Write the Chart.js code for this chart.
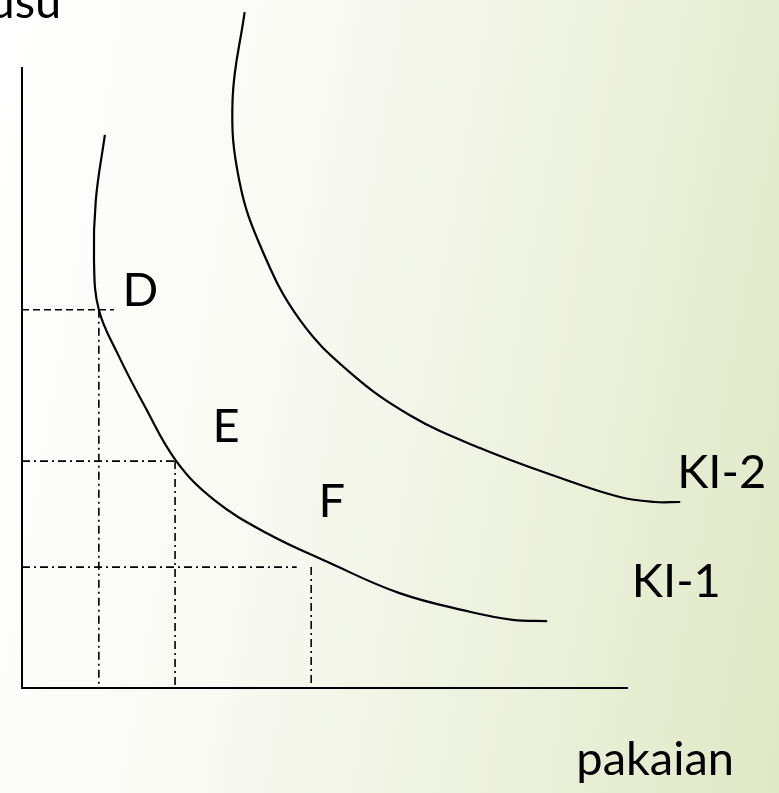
<!DOCTYPE html>
<html>
<head>
<meta charset="utf-8">
<script src="https://cdn.jsdelivr.net/npm/chart.js@4.4.0/dist/chart.umd.min.js"></script>
<style>
html, body { margin: 0; padding: 0; }
body {
    width: 779px;
    height: 793px;
    overflow: hidden;
    background: linear-gradient(100deg, #ffffff 0%, #f9faf4 35%, #eef2e0 65%, #e0e8c6 100%);
}
#wrap { position: relative; width: 779px; height: 793px; }
</style>
</head>
<body>
<div id="wrap"><canvas id="kurvaIndiferen"></canvas></div>
<script>
// kurva indiferen KI-1 (x = pakaian, y = susu)
const ki1X = [1.37, 1.22, 1.19, 1.27, 1.59, 2.02, 2.55, 3.18, 4.04, 5.08, 6.24, 7.40, 8.11, 8.68];
const ki1Y = [8.92, 7.87, 6.90, 6.10, 5.373, 4.56, 3.66, 3.03, 2.50, 2.02, 1.53, 1.23, 1.10, 1.08];

// kurva indiferen KI-2
const ki2X = [3.68, 3.48, 3.59, 3.97, 4.59, 5.41, 6.41, 7.57, 8.89, 9.88, 10.46, 10.88];
const ki2Y = [10.90, 9.48, 8.19, 7.06, 5.94, 5.10, 4.40, 3.87, 3.39, 3.08, 3.00, 3.00];

// titik kombinasi D, E, F pada KI-1
const titikNama = ['D', 'E', 'F'];
const titikX = [1.27, 2.53, 4.78];
const titikY = [6.10, 3.66, 1.95];
const garisDatarUjung = [1.52, 2.53, 4.54];

const toPoints = (xs, ys) => xs.map((x, i) => ({ x: x, y: ys[i] }));

const datasets = [];
const curveStyle = {
    showLine: true,
    borderColor: '#000',
    borderWidth: 2.2,
    pointRadius: 0,
    tension: 0.4,
    fill: false,
    clip: false
};
datasets.push(Object.assign({ label: 'KI-1', data: toPoints(ki1X, ki1Y) }, curveStyle));
datasets.push(Object.assign({ label: 'KI-2', data: toPoints(ki2X, ki2Y) }, curveStyle));

titikNama.forEach((nama, i) => {
    datasets.push({
        label: nama + ' datar',
        data: [{ x: 0, y: titikY[i] }, { x: garisDatarUjung[i], y: titikY[i] }],
        showLine: true,
        borderColor: '#000',
        borderWidth: 1.6,
        borderDash: i === 0 ? [7, 4] : [8, 4, 2, 4],
        pointRadius: 0,
        clip: false
    });
    datasets.push({
        label: nama + ' tegak',
        data: [{ x: titikX[i], y: titikY[i] }, { x: titikX[i], y: 0 }],
        showLine: true,
        borderColor: '#000',
        borderWidth: 1.6,
        borderDash: [8, 4, 2, 4],
        pointRadius: 0,
        clip: false
    });
});

// posisi teks dalam satuan data
const teks = [
    { t: 'D', x: 1.66, y: 6.16, align: 'left' },
    { t: 'E', x: 3.15, y: 3.97, align: 'left' },
    { t: 'F', x: 4.90, y: 2.76, align: 'left' },
    { t: 'KI-2', x: 10.83, y: 3.23, align: 'left' },
    { t: 'KI-1', x: 10.08, y: 1.47, align: 'left' },
    { t: 'pakaian', x: 11.77, y: -1.40, align: 'right' },
    { t: 'susu', x: 0.65, y: 10.81, align: 'right' }
];

const labelPlugin = {
    id: 'labelTeks',
    afterDatasetsDraw(chart) {
        const ctx = chart.ctx;
        const sx = chart.scales.x, sy = chart.scales.y;
        ctx.save();
        ctx.fillStyle = '#000';
        ctx.font = '47px Lato';
        ctx.textBaseline = 'alphabetic';
        teks.forEach(item => {
            ctx.textAlign = item.align;
            ctx.fillText(item.t, sx.getPixelForValue(item.x), sy.getPixelForValue(item.y));
        });
        ctx.restore();
    }
};

new Chart(
    document.getElementById('kurvaIndiferen'),
    {
        type: 'scatter',
        data: { datasets: datasets },
        options: {
            responsive: true,
            maintainAspectRatio: false,
            animation: false,
            events: [],
            layout: {
                padding: { left: 22, top: 68, right: 152, bottom: 105 }
            },
            plugins: {
                legend: { display: false },
                tooltip: { enabled: false }
            },
            scales: {
                x: {
                    type: 'linear',
                    min: 0,
                    max: 10,
                    ticks: { display: false },
                    grid: { display: false, drawTicks: false },
                    border: { display: true, color: '#000', width: 2 }
                },
                y: {
                    type: 'linear',
                    min: 0,
                    max: 10,
                    ticks: { display: false },
                    grid: { display: false, drawTicks: false },
                    border: { display: true, color: '#000', width: 2 }
                }
            }
        },
        plugins: [labelPlugin]
    }
);
</script>
</body>
</html>
